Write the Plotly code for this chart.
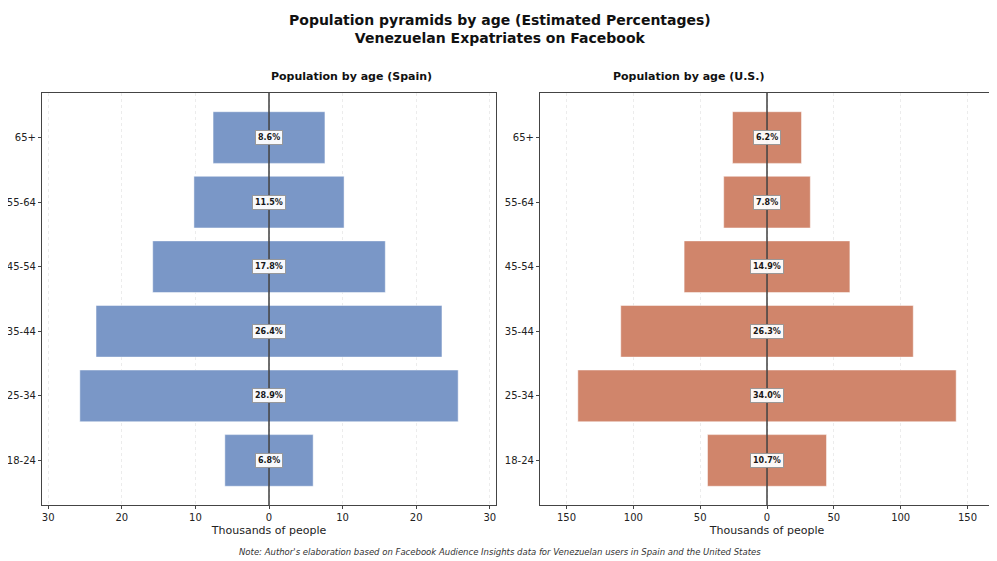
import plotly.graph_objects as go

age_groups = ["18-24", "25-34", "35-44", "45-54", "55-64", "65+"]
spain_thousands = [6.0, 25.7, 23.5, 15.8, 10.2, 7.6]
spain_pct = [6.8, 28.9, 26.4, 17.8, 11.5, 8.6]
us_thousands = [44.5, 141.5, 109.4, 62.0, 32.4, 25.8]
us_pct = [10.7, 34.0, 26.3, 14.9, 7.8, 6.2]

spain_ticks = [-30, -20, -10, 0, 10, 20, 30]
spain_ticktext = ["30", "20", "10", "0", "10", "20", "30"]
us_ticks = [-150, -100, -50, 0, 50, 100, 150]
us_ticktext = ["150", "100", "50", "0", "50", "100", "150"]

BLUE = "#7A97C7"
ORANGE = "#D0856B"
FONT = "DejaVu Sans"

# page has an 8px body margin; figure sized to fit the window
W, H, OFF = 989, 553, 8
def X(px):
    return (px - OFF) / W
def Y(py):
    return 1 - (py - OFF) / H

fig = go.Figure()

def add_side(vals, color, xa, ya):
    for sign in (-1, 1):
        fig.add_trace(go.Bar(y=age_groups, x=[sign * v for v in vals], orientation="h",
                             marker=dict(color=color, line=dict(color="rgba(255,255,255,0.6)", width=0.8)),
                             width=0.8, xaxis=xa, yaxis=ya, showlegend=False, hoverinfo="skip"))

add_side(spain_thousands, BLUE, "x", "y")
add_side(us_thousands, ORANGE, "x2", "y2")

spain_max = max(spain_thousands) * 1.2
us_max = max(us_thousands) * 1.2

axis_common = dict(showline=True, linecolor="#444", linewidth=1.2, mirror=True,
                   ticks="outside", ticklen=3, tickcolor="#444", automargin=False,
                   tickfont=dict(family=FONT, size=10, color="#222"))

left_dom = [X(42), X(496)]
right_dom = [X(540), X(994)]
y_dom = [Y(505), Y(93)]

fig.update_layout(
    width=W, height=H,
    paper_bgcolor="white", plot_bgcolor="white",
    margin=dict(l=0, r=0, t=0, b=0),
    barmode="overlay",
    xaxis=dict(domain=left_dom, range=[-spain_max, spain_max],
               tickvals=spain_ticks, ticktext=spain_ticktext,
               showgrid=True, gridcolor="#ececec", griddash="dot", zeroline=False,
               title=dict(text="Thousands of people", font=dict(family=FONT, size=11, color="#222"), standoff=4),
               anchor="y", **axis_common),
    yaxis=dict(domain=y_dom, range=[-0.69, 5.69], type="category",
               showgrid=False, zeroline=False, anchor="x", **axis_common),
    xaxis2=dict(domain=right_dom, range=[-us_max, us_max],
                tickvals=us_ticks, ticktext=us_ticktext,
                showgrid=True, gridcolor="#ececec", griddash="dot", zeroline=False,
                title=dict(text="Thousands of people", font=dict(family=FONT, size=11, color="#222"), standoff=4),
                anchor="y2", **axis_common),
    yaxis2=dict(domain=y_dom, range=[-0.69, 5.69], type="category",
                showgrid=False, zeroline=False, anchor="x2", **axis_common),
)

# zero reference lines
for xr, yr in [("x", "y domain"), ("x2", "y2 domain")]:
    fig.add_shape(type="line", xref=xr, yref=yr, x0=0, x1=0, y0=0, y1=1,
                  line=dict(color="#222", width=1.3), layer="above")

# percentage labels
for xr, yr, pcts in [("x", "y", spain_pct), ("x2", "y2", us_pct)]:
    for ag, p in zip(age_groups, pcts):
        fig.add_annotation(x=0, y=ag, xref=xr, yref=yr, text=f"<b>{p:.1f}%</b>",
                           showarrow=False, font=dict(family=FONT, size=8, color="#111"),
                           bgcolor="white", bordercolor="#999", borderwidth=1, borderpad=2,
                           opacity=0.95)

# titles
fig.add_annotation(x=X(500), y=Y(29), xref="paper", yref="paper", showarrow=False,
                   yanchor="middle",
                   text="<b>Population pyramids by age (Estimated Percentages)<br>Venezuelan Expatriates on Facebook</b>",
                   font=dict(family=FONT, size=14, color="#111"))

fig.add_annotation(x=(left_dom[0] + left_dom[1]) / 2, y=Y(76), xref="paper", yref="paper",
                   showarrow=False, yanchor="middle", text="<b>Population by age (Spain)</b>",
                   font=dict(family=FONT, size=11, color="#111"))
fig.add_annotation(x=(right_dom[0] + right_dom[1]) / 2, y=Y(76), xref="paper", yref="paper",
                   showarrow=False, yanchor="middle", text="<b>Population by age (U.S.)</b>",
                   font=dict(family=FONT, size=11, color="#111"))

fig.add_annotation(x=X(500), y=Y(552), xref="paper", yref="paper", showarrow=False,
                   yanchor="middle",
                   text="<i>Note: Author's elaboration based on Facebook Audience Insights data for Venezuelan users in Spain and the United States</i>",
                   font=dict(family=FONT, size=8.5, color="#333"))

fig.write_html("out.html")
